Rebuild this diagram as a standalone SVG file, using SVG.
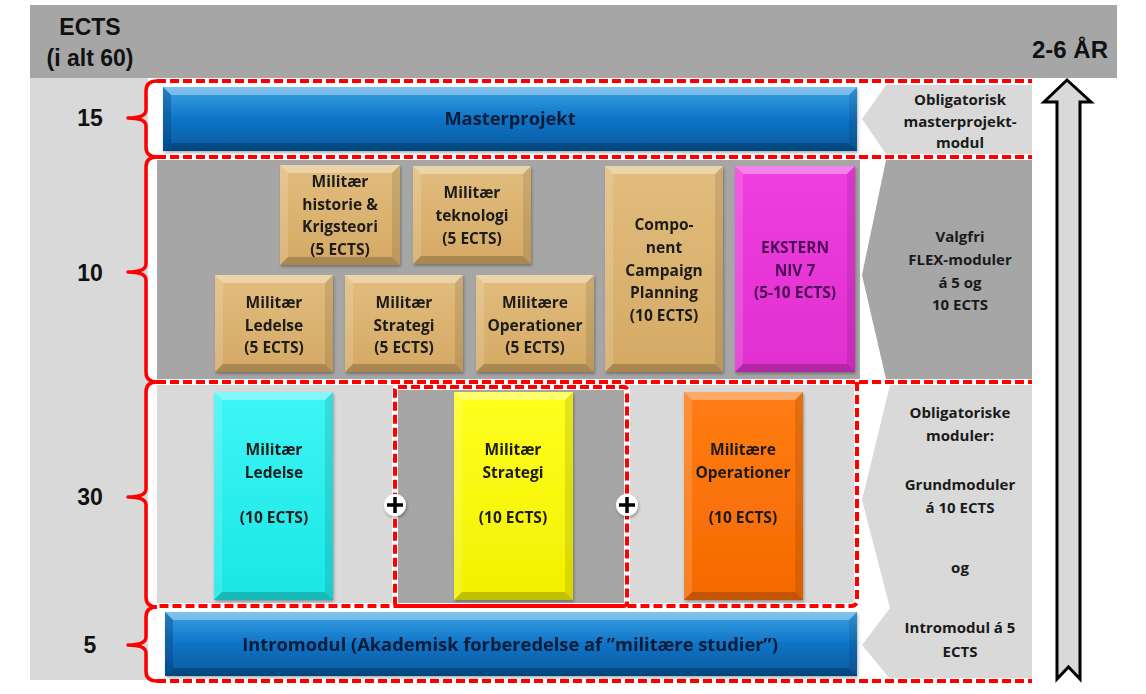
<svg xmlns="http://www.w3.org/2000/svg" width="1146" height="694" viewBox="0 0 1146 694">
<defs>
<linearGradient id="blue" x1="0" y1="0" x2="0" y2="1"><stop offset="0" stop-color="#3aa2e4"/><stop offset="0.5" stop-color="#0f74c6"/><stop offset="1" stop-color="#075a9f"/></linearGradient>
<linearGradient id="tan" x1="0" y1="0" x2="0" y2="1"><stop offset="0" stop-color="#e2bd7e"/><stop offset="1" stop-color="#d4a964"/></linearGradient>
<linearGradient id="cyan" x1="0" y1="0" x2="0" y2="1"><stop offset="0" stop-color="#3ff5f5"/><stop offset="1" stop-color="#1ae6e6"/></linearGradient>
<linearGradient id="yel" x1="0" y1="0" x2="0" y2="1"><stop offset="0" stop-color="#ffff20"/><stop offset="1" stop-color="#f2f000"/></linearGradient>
<linearGradient id="org" x1="0" y1="0" x2="0" y2="1"><stop offset="0" stop-color="#ff7c14"/><stop offset="1" stop-color="#f56a00"/></linearGradient>
<linearGradient id="mag" x1="0" y1="0" x2="0" y2="1"><stop offset="0" stop-color="#f03ee0"/><stop offset="1" stop-color="#e02fcf"/></linearGradient>
<filter id="sh" x="-10%" y="-10%" width="120%" height="120%"><feDropShadow dx="1" dy="2" stdDeviation="1.5" flood-color="#000" flood-opacity="0.3"/></filter>
</defs>
<style>
.lbl{font-family:"Open Sans","Liberation Sans",sans-serif;font-weight:700;font-size:15.5px;fill:#1a1a1a;text-anchor:middle}
.rl{font-family:"Open Sans","Liberation Sans",sans-serif;font-weight:700;font-size:15px;fill:#1a1a1a;text-anchor:middle}
.bar{font-family:"Open Sans","Liberation Sans",sans-serif;font-weight:700;font-size:18.3px;fill:#0c1a38;text-anchor:middle}
.hd{font-family:"Liberation Sans",Arial,sans-serif;font-weight:700;font-size:23px;fill:#111;text-anchor:middle}
.bt{fill:#fff;opacity:.35}
.bl{fill:#fff;opacity:.15}
.br{fill:#000;opacity:.1}
.bb{fill:#000;opacity:.2}
.blt{fill:#003a70;opacity:.35}
.dw{fill:none;stroke:#fff;stroke-width:6}
.dr{fill:none;stroke:#ff0000;stroke-width:4;stroke-dasharray:9 4}
.brace{fill:none;stroke:#ff0000;stroke-width:3.5;stroke-linejoin:round}
.lg{fill:#d9d9d9}
.dg{fill:#a6a6a6}
</style>

<rect width="1146" height="694" fill="#fff"/>
<!-- header -->
<rect x="30" y="5" width="1087" height="73" class="dg"/>
<rect x="30" y="78" width="118" height="602" class="lg"/>
<g id="header-text">
<text class="hd" x="90" y="35">ECTS</text>
<text class="hd" x="90" y="66">(i alt 60)</text>
<text class="hd" x="1108" y="58" style="text-anchor:end;font-size:24px">2-6 ÅR</text>
</g>

<!-- section backgrounds -->
<rect x="157" y="159" width="703" height="221" class="dg"/>
<rect x="157" y="384" width="700" height="221" class="lg"/>
<rect x="395" y="387" width="232" height="219" class="dg"/>

<!-- right side chevrons -->
<g id="chevrons">
<polygon class="lg" points="886,85 1032,85 1032,154 886,154 862,119"/>
<polygon class="dg" points="886,160 1032,160 1032,379 886,379 862,275"/>
<polygon class="lg" points="890,385 1032,385 1032,679 890,679 862,645 890,608 862,500"/>
</g>

<!-- numbers and braces -->
<g id="scale">
<text class="hd" x="90" y="126">15</text>
<text class="hd" x="90" y="281">10</text>
<text class="hd" x="90" y="505">30</text>
<text class="hd" x="90" y="653">5</text>
<path class="brace" d="M157,81 Q146,81 146,91 L146,110 Q146,118 128,118 Q146,118 146,126 L146,147 Q146,157 157,157"/>
<path class="brace" d="M157,157 Q146,157 146,167 L146,264 Q146,272 128,272 Q146,272 146,280 L146,372 Q146,382 157,382"/>
<path class="brace" d="M157,382 Q146,382 146,392 L146,489 Q146,497 128,497 Q146,497 146,505 L146,597 Q146,607 157,607"/>
<path class="brace" d="M157,607 Q146,607 146,617 L146,637 Q146,645 128,645 Q146,645 146,653 L146,671 Q146,681 157,681"/>
</g>

<!-- dashed frames -->
<g id="frames">
<path class="dw" d="M157,81 H1032 M157,157 H1032 M157,382 H1032 M157,681 H1032 M857,382 V600 Q857,606 851,606 H157"/>
<rect class="dw" x="395" y="387" width="232" height="219" rx="3"/>
<path class="dr" d="M157,81 H1032 M157,157 H1032 M157,382 H1032 M157,681 H1032"/>
<path class="dr" d="M857,382 V600 Q857,606 851,606 H157"/>
<rect class="dr" x="395" y="387" width="232" height="219" rx="3"/>
</g>

<!-- Masterprojekt -->
<g id="masterprojekt" filter="url(#sh)">
<rect x="163" y="87" width="694" height="64" fill="url(#blue)"/>
<polygon class="bt" points="163,87 857,87 849,95 171,95"/>
<polygon class="blt" points="163,87 171,95 171,143 163,151"/>
<polygon class="br" points="857,87 857,151 849,143 849,95"/>
<polygon class="bb" points="163,151 171,143 849,143 857,151"/>
<text class="bar" x="510" y="125">Masterprojekt</text>
</g>

<g id="historie" filter="url(#sh)">
<rect x="280" y="165" width="120" height="100" fill="url(#tan)"/>
<polygon class="bt" points="280,165 400,165 392,173 288,173"/>
<polygon class="bl" points="280,165 288,173 288,257 280,265"/>
<polygon class="br" points="400,165 400,265 392,257 392,173"/>
<polygon class="bb" points="280,265 288,257 392,257 400,265"/>
<text class="lbl" x="340" y="187">Militær</text>
<text class="lbl" x="340" y="210">historie &amp;</text>
<text class="lbl" x="340" y="232">Krigsteori</text>
<text class="lbl" x="340" y="255">(5 ECTS)</text>
</g>

<g id="teknologi" filter="url(#sh)">
<rect x="413" y="166" width="118" height="98" fill="url(#tan)"/>
<polygon class="bt" points="413,166 531,166 523,174 421,174"/>
<polygon class="bl" points="413,166 421,174 421,256 413,264"/>
<polygon class="br" points="531,166 531,264 523,256 523,174"/>
<polygon class="bb" points="413,264 421,256 523,256 531,264"/>
<text class="lbl" x="472" y="198">Militær</text>
<text class="lbl" x="472" y="221">teknologi</text>
<text class="lbl" x="472" y="244">(5 ECTS)</text>
</g>

<g id="ledelse5" filter="url(#sh)">
<rect x="215" y="275" width="118" height="97" fill="url(#tan)"/>
<polygon class="bt" points="215,275 333,275 325,283 223,283"/>
<polygon class="bl" points="215,275 223,283 223,364 215,372"/>
<polygon class="br" points="333,275 333,372 325,364 325,283"/>
<polygon class="bb" points="215,372 223,364 325,364 333,372"/>
<text class="lbl" x="274" y="308">Militær</text>
<text class="lbl" x="274" y="331">Ledelse</text>
<text class="lbl" x="274" y="353">(5 ECTS)</text>
</g>

<g id="strategi5" filter="url(#sh)">
<rect x="345" y="275" width="118" height="97" fill="url(#tan)"/>
<polygon class="bt" points="345,275 463,275 455,283 353,283"/>
<polygon class="bl" points="345,275 353,283 353,364 345,372"/>
<polygon class="br" points="463,275 463,372 455,364 455,283"/>
<polygon class="bb" points="345,372 353,364 455,364 463,372"/>
<text class="lbl" x="404" y="308">Militær</text>
<text class="lbl" x="404" y="331">Strategi</text>
<text class="lbl" x="404" y="353">(5 ECTS)</text>
</g>

<g id="operationer5" filter="url(#sh)">
<rect x="476" y="275" width="118" height="97" fill="url(#tan)"/>
<polygon class="bt" points="476,275 594,275 586,283 484,283"/>
<polygon class="bl" points="476,275 484,283 484,364 476,372"/>
<polygon class="br" points="594,275 594,372 586,364 586,283"/>
<polygon class="bb" points="476,372 484,364 586,364 594,372"/>
<text class="lbl" x="535" y="308">Militære</text>
<text class="lbl" x="535" y="331">Operationer</text>
<text class="lbl" x="535" y="353">(5 ECTS)</text>
</g>

<g id="component" filter="url(#sh)">
<rect x="605" y="166" width="118" height="206" fill="url(#tan)"/>
<polygon class="bt" points="605,166 723,166 715,174 613,174"/>
<polygon class="bl" points="605,166 613,174 613,364 605,372"/>
<polygon class="br" points="723,166 723,372 715,364 715,174"/>
<polygon class="bb" points="605,372 613,364 715,364 723,372"/>
<text class="lbl" x="664" y="230">Compo-</text>
<text class="lbl" x="664" y="253">nent</text>
<text class="lbl" x="664" y="276">Campaign</text>
<text class="lbl" x="664" y="298">Planning</text>
<text class="lbl" x="664" y="321">(10 ECTS)</text>
</g>

<g id="ekstern" filter="url(#sh)">
<rect x="735" y="166" width="120" height="206" fill="url(#mag)"/>
<polygon class="bt" points="735,166 855,166 847,174 743,174"/>
<polygon class="bl" points="735,166 743,174 743,364 735,372"/>
<polygon class="br" points="855,166 855,372 847,364 847,174"/>
<polygon class="bb" points="735,372 743,364 847,364 855,372"/>
<text class="lbl" x="795" y="253" style="fill:#4a0b55">EKSTERN</text>
<text class="lbl" x="795" y="276" style="fill:#4a0b55">NIV 7</text>
<text class="lbl" x="795" y="298" style="fill:#4a0b55">(5-10 ECTS)</text>
</g>

<g id="ledelse10" filter="url(#sh)">
<rect x="214" y="392" width="119" height="208" fill="url(#cyan)"/>
<polygon class="bt" points="214,392 333,392 325,400 222,400"/>
<polygon class="bl" points="214,392 222,400 222,592 214,600"/>
<polygon class="br" points="333,392 333,600 325,592 325,400"/>
<polygon class="bb" points="214,600 222,592 325,592 333,600"/>
<text class="lbl" x="274" y="455">Militær</text>
<text class="lbl" x="274" y="478">Ledelse</text>
<text class="lbl" x="274" y="523">(10 ECTS)</text>
</g>

<g id="strategi10" filter="url(#sh)">
<rect x="454" y="392" width="119" height="208" fill="url(#yel)"/>
<polygon class="bt" points="454,392 573,392 565,400 462,400"/>
<polygon class="bl" points="454,392 462,400 462,592 454,600"/>
<polygon class="br" points="573,392 573,600 565,592 565,400"/>
<polygon class="bb" points="454,600 462,592 565,592 573,600"/>
<text class="lbl" x="513" y="455">Militær</text>
<text class="lbl" x="513" y="478">Strategi</text>
<text class="lbl" x="513" y="523">(10 ECTS)</text>
</g>

<g id="operationer10" filter="url(#sh)">
<rect x="684" y="392" width="119" height="208" fill="url(#org)"/>
<polygon class="bt" points="684,392 803,392 795,400 692,400"/>
<polygon class="bl" points="684,392 692,400 692,592 684,600"/>
<polygon class="br" points="803,392 803,600 795,592 795,400"/>
<polygon class="bb" points="684,600 692,592 795,592 803,600"/>
<text class="lbl" x="743" y="455">Militære</text>
<text class="lbl" x="743" y="478">Operationer</text>
<text class="lbl" x="743" y="523">(10 ECTS)</text>
</g>

<g id="plus1" filter="url(#sh)">
<circle cx="395" cy="505" r="11" fill="#fff"/>
<path d="M387,505 H403 M395,497 V513" stroke="#000" stroke-width="3.5"/>
</g>
<g id="plus2" filter="url(#sh)">
<circle cx="627" cy="505" r="11" fill="#fff"/>
<path d="M619,505 H635 M627,497 V513" stroke="#000" stroke-width="3.5"/>
</g>

<g id="intromodul" filter="url(#sh)">
<rect x="165" y="612" width="692" height="64" fill="url(#blue)"/>
<polygon class="bt" points="165,612 857,612 849,620 173,620"/>
<polygon class="blt" points="165,612 173,620 173,668 165,676"/>
<polygon class="br" points="857,612 857,676 849,668 849,620"/>
<polygon class="bb" points="165,676 173,668 849,668 857,676"/>
<text class="bar" x="510" y="651">Intromodul (Akademisk forberedelse af ”militære studier”)</text>
</g>

<g id="right-labels">
<text class="rl" x="960" y="105">Obligatorisk</text>
<text class="rl" x="960" y="127">masterprojekt-</text>
<text class="rl" x="960" y="148">modul</text>
<text class="rl" x="960" y="242">Valgfri</text>
<text class="rl" x="960" y="265">FLEX-moduler</text>
<text class="rl" x="960" y="288">á 5 og</text>
<text class="rl" x="960" y="310">10 ECTS</text>
<text class="rl" x="960" y="418">Obligatoriske</text>
<text class="rl" x="960" y="441">moduler:</text>
<text class="rl" x="960" y="490">Grundmoduler</text>
<text class="rl" x="960" y="513">á 10 ECTS</text>
<text class="rl" x="960" y="573">og</text>
<text class="rl" x="960" y="633">Intromodul á 5</text>
<text class="rl" x="960" y="657">ECTS</text>
</g>

<g id="connectors">
<polygon points="1067,80 1091,102 1080,102 1080,679 1068.5,667 1057,679 1057,102 1044,102" fill="#d9d9d9" stroke="#000" stroke-width="3" stroke-linejoin="miter"/>
</g>
</svg>
